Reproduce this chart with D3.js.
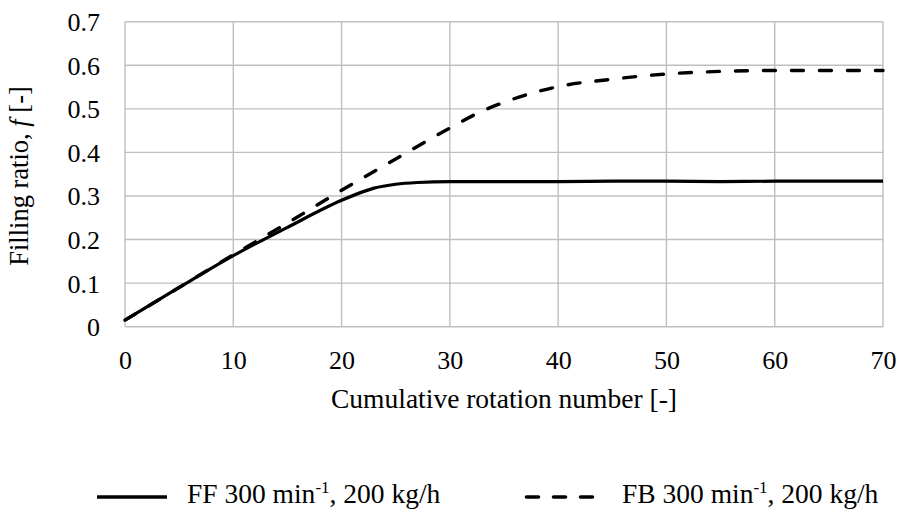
<!DOCTYPE html>
<html><head><meta charset="utf-8">
<script src="https://cdn.jsdelivr.net/npm/d3@7"></script>
</head><body style="margin:0"><svg id="c" width="899" height="514"></svg>
<script>
const xTicks = [0,10,20,30,40,50,60,70];
const yTicks = [0,0.1,0.2,0.3,0.4,0.5,0.6,0.7];
const ffX = [0,5,10,15,20,22,23,25,27,30,35,40,45,50,55,60,65,70];
const ffY = [0.015,0.09,0.163,0.228,0.29,0.31,0.318,0.327,0.331,0.333,0.333,0.333,0.334,0.334,0.333,0.334,0.334,0.334];
const fbX = [0,5,10,15,20,25,30,33,35,40,45,50,55,60,65,70];
const fbY = [0.015,0.09,0.165,0.238,0.313,0.385,0.456,0.495,0.515,0.551,0.568,0.580,0.586,0.588,0.588,0.588];
const legendNames = ["FF 300 min", "FB 300 min"];

const FONT = "'Liberation Serif'";
const svg = d3.select("#c");
const x = d3.scaleLinear().domain([0,70]).range([125,883]);
const y = d3.scaleLinear().domain([0,0.7]).range([326.7,21.7]);
const grid = "#bfbfbf";

svg.append("g").selectAll("line").data(yTicks).join("line")
  .attr("x1",x(0)).attr("x2",x(70)).attr("y1",d=>y(d)).attr("y2",d=>y(d))
  .attr("stroke",grid).attr("stroke-width",1.4);
svg.append("g").selectAll("line").data(xTicks).join("line")
  .attr("y1",y(0)).attr("y2",y(0.7)).attr("x1",d=>x(d)).attr("x2",d=>x(d))
  .attr("stroke",grid).attr("stroke-width",1.4);

const xa = svg.append("g").attr("transform",`translate(0,${y(0)})`)
  .call(d3.axisBottom(x).tickValues(xTicks).tickSize(0).tickPadding(23).tickFormat(d3.format("d")));
xa.attr("font-family",null).attr("font-size",null);
xa.select(".domain").remove();
xa.selectAll("text").attr("dy",null).attr("y",42)
  .style("font-size","26px").style("font-family",FONT).attr("fill","#000");
const ya = svg.append("g").attr("transform",`translate(${x(0)},0)`)
  .call(d3.axisLeft(y).tickValues(yTicks).tickSize(0).tickPadding(25).tickFormat(d=>d===0?"0":d3.format(".1f")(d)));
ya.attr("font-family",null).attr("font-size",null);
ya.select(".domain").remove();
ya.selectAll("text").attr("dy",null).attr("y",9)
  .style("font-size","26px").style("font-family",FONT).attr("fill","#000");

const line = d3.line().x(d=>x(d[0])).y(d=>y(d[1])).curve(d3.curveMonotoneX);
svg.append("path").datum(ffX.map((v,i)=>[v,ffY[i]])).attr("d",line)
  .attr("fill","none").attr("stroke","#000").attr("stroke-width",3.2);
svg.append("path").datum(fbX.map((v,i)=>[v,fbY[i]])).attr("d",line)
  .attr("fill","none").attr("stroke","#000").attr("stroke-width",3.4)
  .attr("stroke-dasharray","12,16").attr("stroke-linecap","round");

svg.append("text").attr("x",504).attr("y",408).attr("text-anchor","middle")
  .style("font-size","27.5px").style("font-family",FONT).text("Cumulative rotation number [-]");
const yl = svg.append("text").attr("transform","translate(28,176) rotate(-90)").attr("text-anchor","middle")
  .style("font-size","26.5px").style("font-family",FONT);
yl.append("tspan").text("Filling ratio, ");
yl.append("tspan").style("font-style","italic").text("f");
yl.append("tspan").text(" [-]");

function legend(x0, x1, tx, name, dashed){
  const g = svg.append("g");
  g.append("line").attr("x1",x0).attr("x2",x1).attr("y1",497).attr("y2",497)
    .attr("stroke","#000").attr("stroke-width",3.6)
    .attr("stroke-dasharray",dashed?"12,15":null).attr("stroke-linecap",dashed?"round":"butt");
  const t = g.append("text").attr("x",tx).attr("y",503).style("font-size","27.5px").style("font-family",FONT);
  t.append("tspan").text(name);
  t.append("tspan").attr("dy",-10).style("font-size","17px").text("-1");
  t.append("tspan").attr("dy",10).text(", 200 kg/h");
}
legend(97, 167, 187, legendNames[0], false);
legend(526.5, 592.5, 622, legendNames[1], true);
</script></body></html>
